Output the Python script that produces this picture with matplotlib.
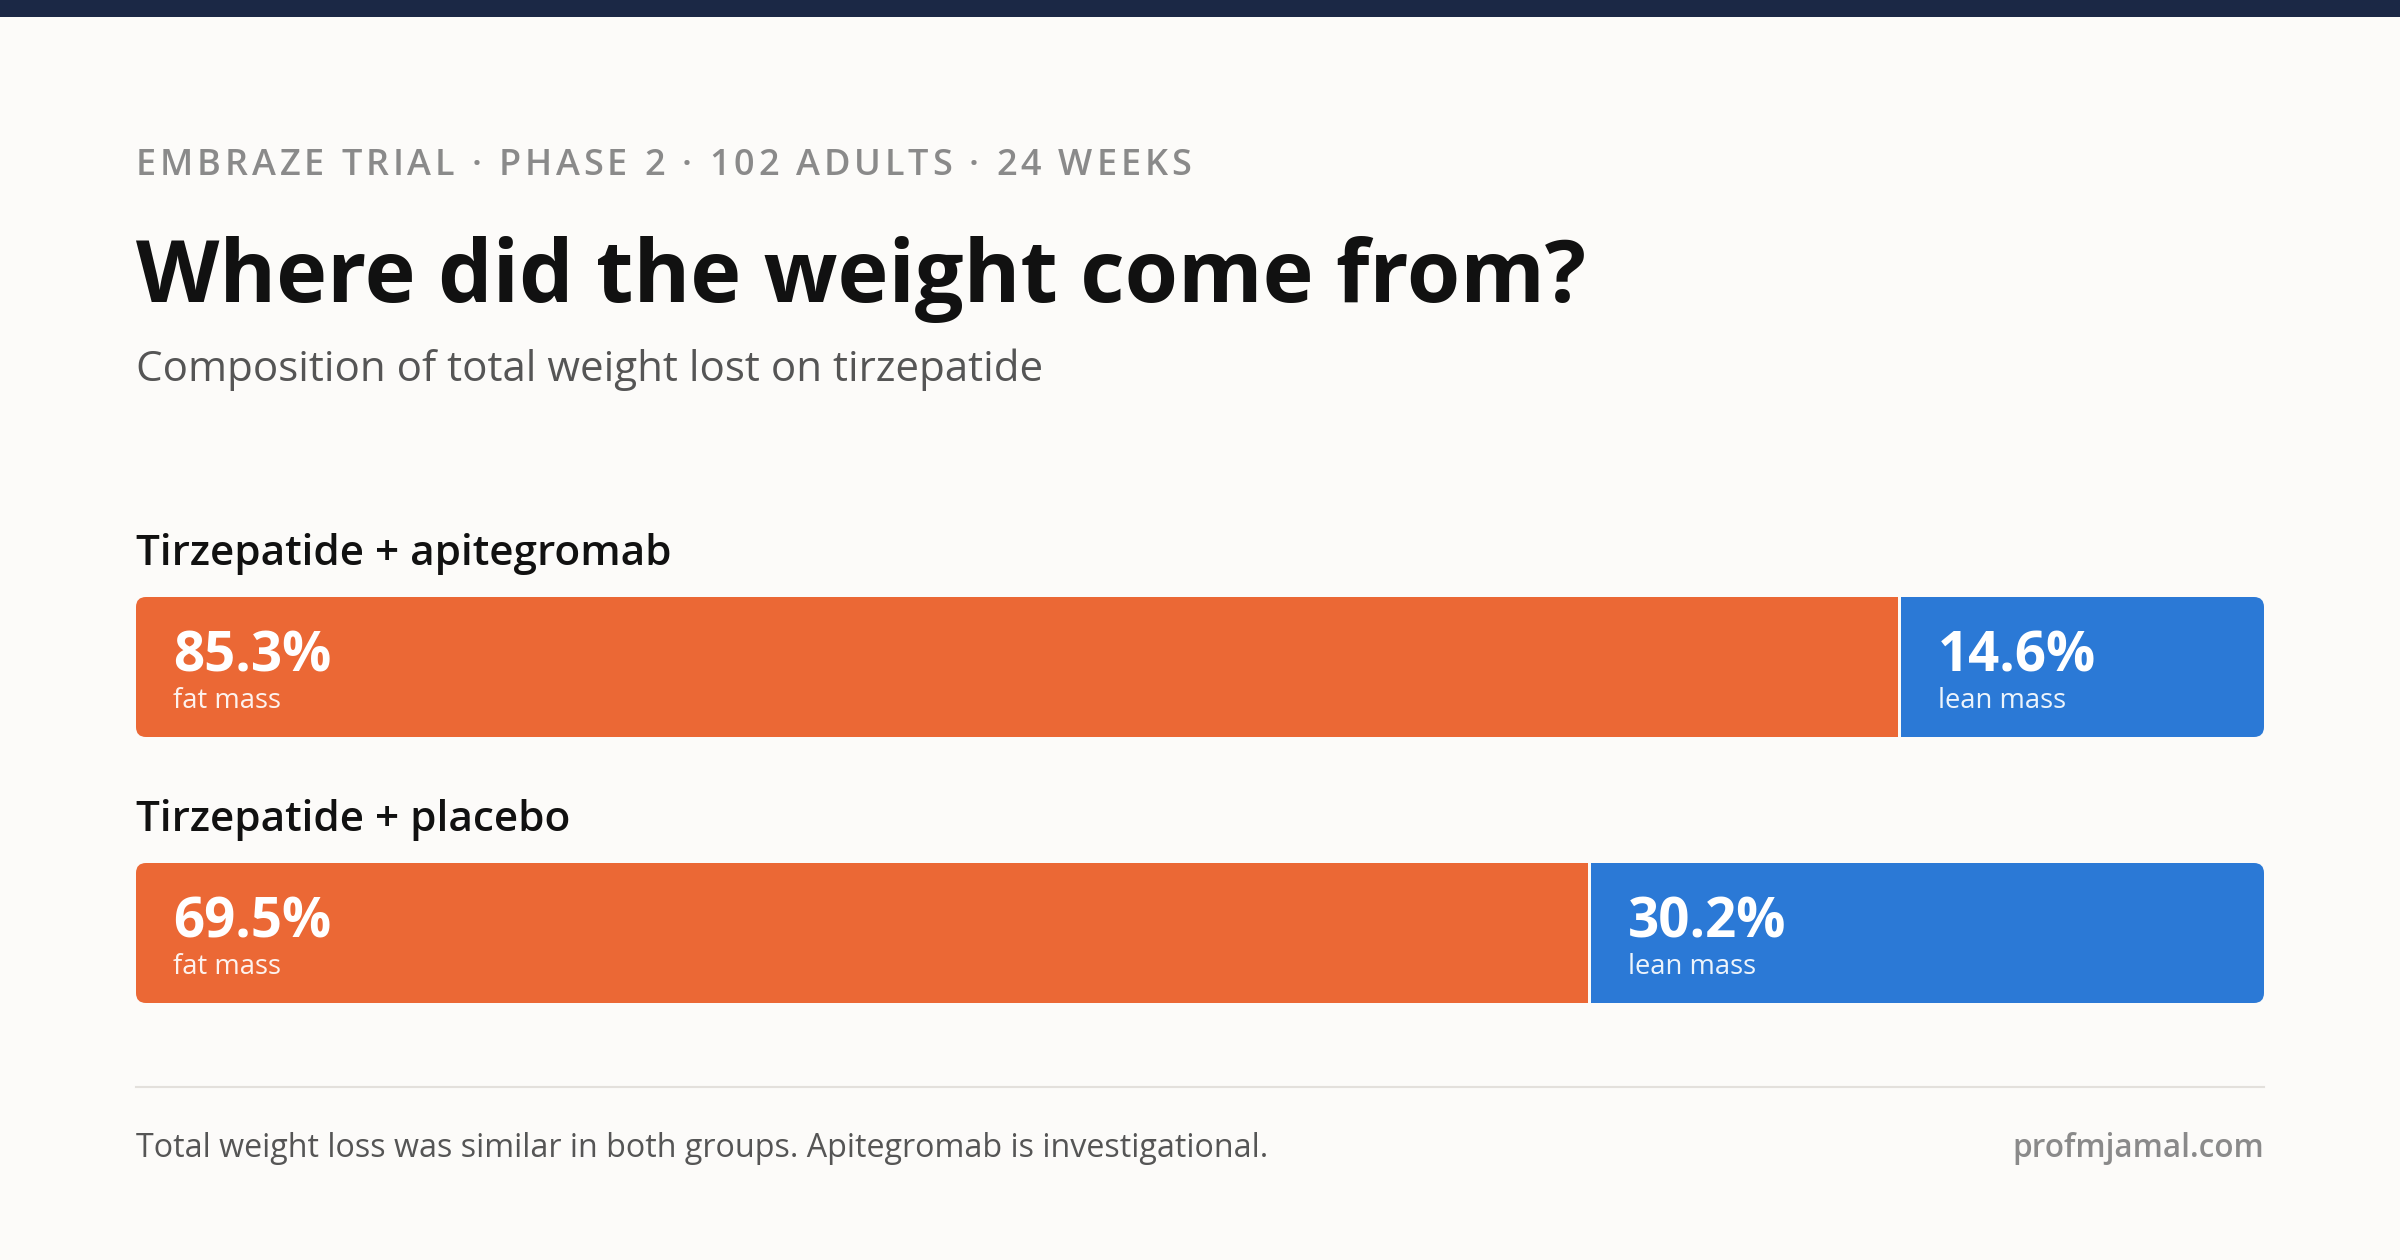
import matplotlib.pyplot as plt
from matplotlib.patches import FancyBboxPatch, Rectangle
from matplotlib.font_manager import FontProperties

# ---- chart data ----
groups = ["Tirzepatide + apitegromab", "Tirzepatide + placebo"]
fat_pct = [85.3, 69.5]
lean_pct = [14.6, 30.2]
segment_names = ["fat mass", "lean mass"]

kicker = "EMBRAZE TRIAL · PHASE 2 · 102 ADULTS · 24 WEEKS"
title = "Where did the weight come from?"
subtitle = "Composition of total weight lost on tirzepatide"
footnote = "Total weight loss was similar in both groups. Apitegromab is investigational."
credit = "profmjamal.com"

# ---- look ----
BG = "#fcfbf9"
NAVY = "#1b2845"
ORANGE = "#eb6835"
BLUE = "#2b79d6"
FONT = "Open Sans"

W, H = 2400, 1260
LEFT, RIGHT = 136, 2264
PAD, GAP = 37, 3          # segment padding and white gap between segments
BAR_H = 140
BAR_TOPS = [597, 863]
LABEL_BASE = [565, 831]

plt.rcParams['font.family'] = [FONT, 'DejaVu Sans']

fig = plt.figure(figsize=(12, 6.3), dpi=200, facecolor=BG)
ax = fig.add_axes([0, 0, 1, 1])
ax.set_xlim(0, W)
ax.set_ylim(H, 0)
ax.axis('off')
renderer = fig.canvas.get_renderer()


def fit_size(s, width, weight='normal'):
    """Font size (pt) at which `s` spans `width` pixels."""
    prop = FontProperties(family=FONT, size=20, weight=weight)
    w = renderer.get_text_width_height_descent(s, prop, ismath=False)[0]
    return 20 * width / w


def fit_text(x, y, s, width, ha='left', weight='normal', **kw):
    return ax.text(x, y, s, ha=ha, va='baseline', fontweight=weight,
                   fontsize=fit_size(s, width, weight), **kw)


def spaced_text(x, y, s, width, size, weight, color):
    """Letter-spaced caps, drawn one glyph at a time."""
    prop = FontProperties(family=FONT, size=size, weight=weight)
    widths = [renderer.get_text_width_height_descent(c, prop, ismath=False)[0] for c in s]
    spacing = (width - sum(widths)) / (len(s) - 1)
    for c, cw in zip(s, widths):
        ax.text(x, y, c, fontproperties=prop, color=color, va='baseline', ha='left')
        x += cw + spacing


# top band
ax.add_patch(Rectangle((0, 0), W, 17, color=NAVY, lw=0))

# header
spaced_text(LEFT, 175, kicker, 1055, 13, 'semibold', '#8a8a8a')
fit_text(LEFT, 302, title, 1448, weight='bold', color='#111111')
fit_text(LEFT, 381, subtitle, 906, color='#555555')

# text sizes shared by both groups
label_size = fit_size(groups[0], 534, 'semibold')
big_size = fit_size(f"{fat_pct[0]:.1f}%", 158, 'bold')
small_size = fit_size(segment_names[0], 108)

# stacked bars: flex-like layout, each segment gets its padding plus a share of the rest
span = RIGHT - LEFT
for i, grp in enumerate(groups):
    top = BAR_TOPS[i]
    vals = [fat_pct[i], lean_pct[i]]
    free = span - GAP - 4 * PAD
    widths = [2 * PAD + free * v / sum(vals) for v in vals]
    lefts = [LEFT, LEFT + widths[0] + GAP]

    ax.text(LEFT, LABEL_BASE[i], grp, va='baseline', fontsize=label_size,
            fontweight='semibold', color='#111111')

    clip = FancyBboxPatch((LEFT, top), span, BAR_H,
                          boxstyle="round,pad=0,rounding_size=10",
                          facecolor='none', edgecolor='none')
    ax.add_patch(clip)
    bars = ax.barh([top + BAR_H / 2] * 2, widths, left=lefts, height=BAR_H,
                   color=[ORANGE, BLUE], linewidth=0)
    for b in bars:
        b.set_clip_path(clip)

    for j, v in enumerate(vals):
        tx = lefts[j] + PAD
        ax.text(tx, top + 74, f"{v:.1f}%", va='baseline', fontsize=big_size,
                fontweight='bold', color='white')
        ax.text(tx, top + 111, segment_names[j], va='baseline', fontsize=small_size,
                color='white', alpha=0.92)

# footer
ax.plot([LEFT, RIGHT], [1087, 1087], color='#e3e0dc', lw=0.75)
fit_text(LEFT, 1157, footnote, 1133, color='#555555')
fit_text(RIGHT, 1157, credit, 251, ha='right', weight='semibold', color='#8a8a8a')

fig.savefig("out.png", dpi=200, facecolor=BG)
